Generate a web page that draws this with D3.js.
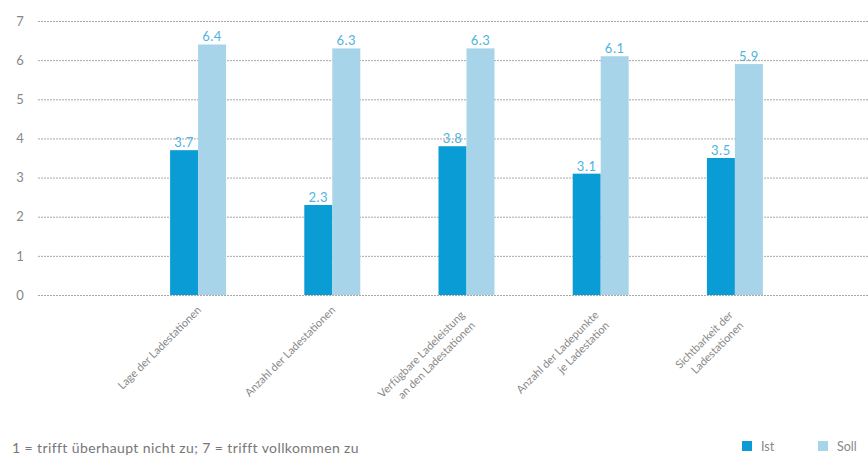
<!DOCTYPE html>
<html><head><meta charset="utf-8">
<script src="https://cdn.jsdelivr.net/npm/d3@7"></script>
<style>body{margin:0;background:#fff}svg{display:block;font-family:Lato,"Liberation Sans",Arial,sans-serif}</style>
</head><body><svg id="c" width="868" height="461"></svg>
<script>
const categories = [
  ["Lage der Ladestationen"],
  ["Anzahl der Ladestationen"],
  ["Verfügbare Ladeleistung", "an den Ladestationen"],
  ["Anzahl der Ladepunkte", "je Ladestation"],
  ["Sichtbarkeit der", "Ladestationen"]
];
const istValues = [3.7, 2.3, 3.8, 3.1, 3.5];
const sollValues = [6.4, 6.3, 6.3, 6.1, 5.9];
const yTicks = [0, 1, 2, 3, 4, 5, 6, 7];
const seriesNames = ["Ist", "Soll"];
const footnote = "1 = trifft überhaupt nicht zu; 7 = trifft vollkommen zu";

const colors = {Ist: "#0a9cd4", Soll: "#a8d4ea"};
const svg = d3.select("#c");
const y = d3.scaleLinear().domain([0, 7]).range([295, 21]);
const x = d3.scaleBand().domain(d3.range(categories.length)).range([131, 802]);
const barW = 28;

// grid
const grid = svg.append("g");
grid.selectAll("line").data(yTicks).join("line")
  .attr("x1", 38).attr("x2", 868)
  .attr("y1", d => y(d) + 0.5).attr("y2", d => y(d) + 0.5)
  .attr("stroke", "#a8a8a8").attr("stroke-width", 1).attr("stroke-dasharray", "2,1");
grid.selectAll("text").data(yTicks).join("text")
  .attr("x", 20).attr("y", d => y(d)).attr("dy", "0.36em")
  .attr("text-anchor", "middle").attr("font-size", 13).attr("fill", "#888")
  .text(d => d);

const series = [
  {name: "Ist", values: istValues, off: -barW},
  {name: "Soll", values: sollValues, off: 0}
];
series.forEach(s => {
  const g = svg.append("g");
  g.selectAll("rect").data(s.values).join("rect")
    .attr("x", (d, i) => x(i) + x.bandwidth() / 2 + s.off)
    .attr("width", barW)
    .attr("y", d => y(d)).attr("height", d => y(0) - y(d))
    .attr("fill", colors[s.name]);
  g.selectAll("text").data(s.values).join("text")
    .attr("x", (d, i) => x(i) + x.bandwidth() / 2 + s.off + barW / 2)
    .attr("y", d => y(d) - 3)
    .attr("text-anchor", "middle").attr("font-size", 13).attr("letter-spacing", 0.5).attr("fill", "#4fb3dd")
    .text(d => d.toFixed(1));
});

// category labels
categories.forEach((lines, i) => {
  const cx = x(i) + x.bandwidth() / 2 + 1, cy = 308;
  const t = svg.append("text")
    .attr("transform", `translate(${cx},${cy}) rotate(-45)`)
    .attr("text-anchor", "end").attr("font-size", 11).attr("fill", "#888");
  const shift = lines.length === 1 ? 0 : -7;
  lines.forEach((l, j) => {
    t.append("tspan").attr("x", shift).attr("y", 0).attr("dy", (0.35 + j * 1.35) + "em").text(l);
  });
});

svg.append("text").attr("x", 12).attr("y", 453).attr("font-size", 14).attr("letter-spacing", 0.4).attr("fill", "#777").text(footnote);

const legPos = [742, 818];
seriesNames.forEach((n, i) => {
  svg.append("rect").attr("x", legPos[i]).attr("y", 441).attr("width", 10).attr("height", 10).attr("fill", colors[n]);
  svg.append("text").attr("x", legPos[i] + 19).attr("y", 451).attr("font-size", 12.5).attr("fill", "#888").text(n);
});
</script></body></html>
